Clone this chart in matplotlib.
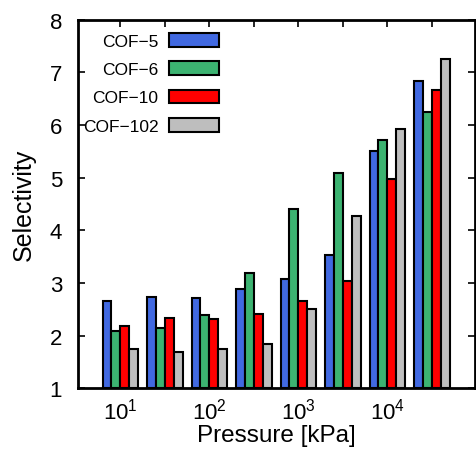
"""Selectivity vs pressure bar chart."""

import matplotlib
matplotlib.use("Agg")
import matplotlib.pyplot as plt
import numpy as np

plt.rcParams.update({
    "font.family": "Liberation Sans",
    "mathtext.fontset": "custom",
    "mathtext.rm": "Liberation Sans",
    "mathtext.it": "Liberation Sans",
    "font.size": 16,
})

# Data
pressures = ["$10^{1}$", "", "$10^{2}$", "", "$10^{3}$", "", "$10^{4}$", ""]
series = ["COF\u22125", "COF\u22126", "COF\u221210", "COF\u2212102"]
cof5 = [2.65, 2.74, 2.72, 2.88, 3.07, 3.54, 5.51, 6.84]
cof6 = [2.09, 2.14, 2.39, 3.18, 4.40, 5.08, 5.72, 6.25]
cof10 = [2.19, 2.33, 2.32, 2.41, 2.65, 3.04, 4.97, 6.66]
cof102 = [1.74, 1.69, 1.74, 1.84, 2.50, 4.27, 5.93, 7.25]
COLORS = ["#4169E1", "#3CB371", "#FF0000", "#BEBEBE"]

fig = plt.figure(figsize=(4.76, 4.52), dpi=100)
ax = fig.add_axes([0.164, 0.139, 0.834, 0.815])

x = np.arange(len(pressures))
width = 0.2
base = 1.0
for i, (vals, name) in enumerate(zip([cof5, cof6, cof10, cof102], series)):
    v = np.array(vals)
    ax.bar(x + (i - 1.5) * width, v - base, width, bottom=base, color=COLORS[i],
           edgecolor="black", linewidth=1.5, label=name, zorder=2)

ax.set_xlim(-0.95, 7.97)
ax.set_ylim(1, 8)
ax.set_xticks(x)
ax.set_xticklabels(pressures)
ax.set_yticks(range(1, 9))
ax.tick_params(axis="both", direction="in", length=5, width=1.2,
               top=True, right=True, labelsize=16)
ax.tick_params(axis="x", pad=7)
ax.tick_params(axis="y", pad=11.5)
for s in ax.spines.values():
    s.set_linewidth(2)
ax.set_xlabel("Pressure [kPa]", fontsize=17.5, labelpad=0)
ax.set_ylabel("Selectivity", fontsize=18, labelpad=10)

# markerfirst=False right-aligns the labels against their boxes
leg = ax.legend(loc="upper left", bbox_to_anchor=(0.012, 0.965), frameon=False,
                markerfirst=False, fontsize=12.5, handlelength=2.9,
                handleheight=0.85, labelspacing=0.72, handletextpad=0.6,
                borderpad=0, borderaxespad=0)
for p in leg.get_patches():
    p.set_edgecolor("black")
    p.set_linewidth(1.5)

fig.savefig("out.png", dpi=100)
